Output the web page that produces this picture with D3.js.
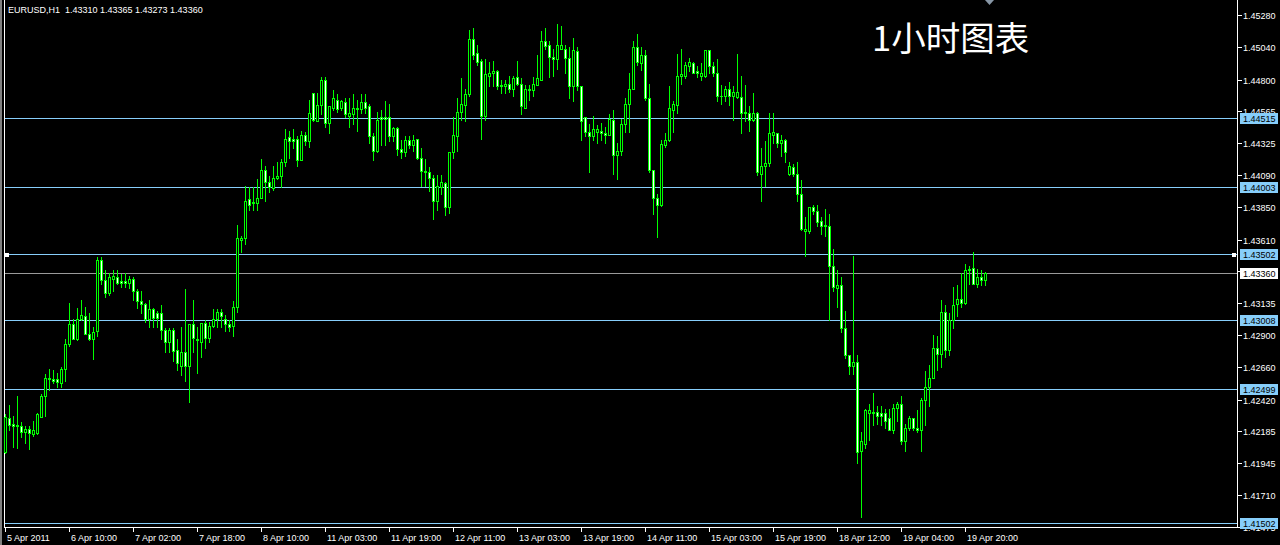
<!DOCTYPE html>
<html><head><meta charset="utf-8">
<script src="https://cdn.jsdelivr.net/npm/d3@7"></script>
<style>html,body{margin:0;padding:0;background:#000;overflow:hidden}</style>
</head><body>
<svg id="c" width="1280" height="545"></svg>
<script>
const headerText = "EURUSD,H1  1.43310 1.43365 1.43273 1.43360";
const title = "1小时图表";

const open = [
1.4203,1.4228,1.4224,1.4223,1.4222,1.4218,1.4220,1.4216,1.4217,1.4229,
1.4245,1.4257,1.4257,1.4257,1.4254,1.4265,1.4283,1.4298,1.4287,1.4302,
1.4304,1.4291,1.4287,1.4293,1.4346,1.4331,1.4321,1.4332,1.4333,1.4330,
1.4330,1.4329,1.4332,1.4323,1.4315,1.4313,1.4302,1.4309,1.4306,1.4306,
1.4294,1.4285,1.4294,1.4279,1.4267,1.4277,1.4267,1.4298,1.4287,1.4285,
1.4299,1.4288,1.4297,1.4302,1.4307,1.4302,1.4298,1.4297,1.4311,1.4361,
1.4362,1.4391,1.4389,1.4388,1.4392,1.4413,1.4404,1.4399,1.4407,1.4408,
1.4419,1.4437,1.4436,1.4436,1.4420,1.4439,1.4434,1.4470,1.4449,1.4461,
1.4480,1.4448,1.4459,1.4465,1.4459,1.4463,1.4453,1.4454,1.4459,1.4458,
1.4463,1.4460,1.4438,1.4427,1.4452,1.4452,1.4452,1.4438,1.4444,1.4428,
1.4426,1.4435,1.4431,1.4436,1.4422,1.4412,1.4411,1.4407,1.4390,1.4400,
1.4403,1.4385,1.4426,1.4438,1.4456,1.4461,1.4469,1.4510,1.4500,1.4494,
1.4453,1.4483,1.4485,1.4486,1.4476,1.4475,1.4477,1.4473,1.4482,1.4477,
1.4459,1.4473,1.4472,1.4476,1.4480,1.4509,1.4506,1.4497,1.4495,1.4503,
1.4503,1.4496,1.4475,1.4501,1.4475,1.4452,1.4441,1.4438,1.4441,1.4442,
1.4440,1.4439,1.4450,1.4424,1.4427,1.4447,1.4462,1.4473,1.4504,1.4492,
1.4498,1.4466,1.4413,1.4392,1.4387,1.4431,1.4435,1.4457,1.4461,1.4483,
1.4483,1.4490,1.4492,1.4486,1.4483,1.4483,1.4502,1.4490,1.4485,1.4468,
1.4468,1.4473,1.4468,1.4467,1.4467,1.4455,1.4455,1.4450,1.4455,1.4410,
1.4416,1.4418,1.4439,1.4440,1.4433,1.4435,1.4410,1.4415,1.4410,1.4395,
1.4367,1.4367,1.4385,1.4382,1.4375,1.4372,1.4371,1.4341,1.4325,1.4327,
1.4295,1.4275,1.4267,1.4270,1.4204,1.4209,1.4232,1.4232,1.4233,1.4232,
1.4232,1.4228,1.4219,1.4236,1.4239,1.4211,1.4221,1.4228,1.4221,1.4219,
1.4242,1.4251,1.4258,1.4280,1.4276,1.4307,1.4279,1.4301,1.4313,1.4317,
1.4314,1.4338,1.4340,1.4328,1.4333,1.43310];

const high = [
1.4231,1.4238,1.4230,1.4245,1.4225,1.4222,1.4222,1.4226,1.4232,1.4246,
1.4261,1.4265,1.4264,1.4262,1.4266,1.4287,1.4314,1.4302,1.4310,1.4316,
1.4311,1.4306,1.4296,1.4348,1.4348,1.4338,1.4336,1.4338,1.4338,1.4335,
1.4336,1.4334,1.4333,1.4324,1.4323,1.4314,1.4316,1.4310,1.4308,1.4312,
1.4295,1.4295,1.4295,1.4287,1.4296,1.4324,1.4296,1.4316,1.4296,1.4299,
1.4301,1.4300,1.4309,1.4309,1.4309,1.4305,1.4301,1.4315,1.4372,1.4364,
1.4401,1.4400,1.4400,1.4406,1.4421,1.4416,1.4408,1.4416,1.4419,1.4421,
1.4443,1.4442,1.4443,1.4438,1.4442,1.4441,1.4465,1.4470,1.4470,1.4482,
1.4482,1.4460,1.4472,1.4469,1.4465,1.4466,1.4466,1.4469,1.4465,1.4469,
1.4469,1.4462,1.4440,1.4456,1.4457,1.4464,1.4462,1.4445,1.4445,1.4435,
1.4438,1.4438,1.4439,1.4436,1.4429,1.4421,1.4415,1.4409,1.4409,1.4409,
1.4404,1.4426,1.4452,1.4466,1.4481,1.4473,1.4517,1.4518,1.4506,1.4495,
1.4495,1.4493,1.4494,1.4487,1.4480,1.4480,1.4483,1.4483,1.4494,1.4481,
1.4476,1.4476,1.4482,1.4498,1.4516,1.4518,1.4509,1.4503,1.4521,1.4520,
1.4506,1.4504,1.4511,1.4504,1.4475,1.4452,1.4447,1.4453,1.4446,1.4448,
1.4445,1.4454,1.4457,1.4433,1.4451,1.4466,1.4485,1.4509,1.4514,1.4504,
1.4502,1.4477,1.4413,1.4395,1.4435,1.4440,1.4475,1.4464,1.4499,1.4503,
1.4493,1.4496,1.4493,1.4490,1.4492,1.4502,1.4502,1.4493,1.4495,1.4476,
1.4475,1.4478,1.4475,1.4499,1.4483,1.4476,1.4460,1.4470,1.4456,1.4429,
1.4434,1.4455,1.4455,1.4440,1.4439,1.4436,1.4419,1.4417,1.4419,1.4405,
1.4378,1.4385,1.4387,1.4387,1.4378,1.4384,1.4380,1.4354,1.4338,1.4333,
1.4308,1.4275,1.4349,1.4275,1.4218,1.4235,1.4239,1.4247,1.4237,1.4237,
1.4235,1.4235,1.4239,1.4240,1.4245,1.4224,1.4230,1.4228,1.4234,1.4243,
1.4263,1.4268,1.4290,1.4289,1.4316,1.4312,1.4306,1.4326,1.4327,1.4336,
1.4343,1.4341,1.4352,1.4339,1.4338,1.43365];

const low = [
1.4202,1.4219,1.4207,1.4206,1.4214,1.4210,1.4205,1.4215,1.4216,1.4229,
1.4230,1.4249,1.4254,1.4251,1.4251,1.4256,1.4282,1.4287,1.4286,1.4301,
1.4291,1.4286,1.4272,1.4289,1.4328,1.4318,1.4320,1.4323,1.4328,1.4326,
1.4326,1.4325,1.4316,1.4310,1.4306,1.4300,1.4296,1.4296,1.4296,1.4287,
1.4277,1.4277,1.4271,1.4264,1.4260,1.4256,1.4240,1.4277,1.4262,1.4274,
1.4280,1.4285,1.4296,1.4296,1.4296,1.4293,1.4293,1.4289,1.4307,1.4352,
1.4358,1.4383,1.4383,1.4383,1.4392,1.4390,1.4396,1.4398,1.4406,1.4400,
1.4416,1.4422,1.4429,1.4416,1.4420,1.4431,1.4430,1.4449,1.4449,1.4454,
1.4445,1.4440,1.4457,1.4456,1.4457,1.4452,1.4445,1.4447,1.4442,1.4455,
1.4455,1.4433,1.4420,1.4426,1.4431,1.4431,1.4434,1.4434,1.4424,1.4422,
1.4423,1.4429,1.4427,1.4421,1.4401,1.4401,1.4397,1.4376,1.4383,1.4395,
1.4379,1.4381,1.4422,1.4427,1.4450,1.4449,1.4468,1.4495,1.4491,1.4436,
1.4450,1.4475,1.4475,1.4473,1.4470,1.4470,1.4471,1.4468,1.4476,1.4454,
1.4459,1.4465,1.4468,1.4476,1.4480,1.4503,1.4482,1.4483,1.4488,1.4503,
1.4485,1.4466,1.4464,1.4472,1.4435,1.4438,1.4411,1.4435,1.4433,1.4435,
1.4433,1.4439,1.4410,1.4406,1.4424,1.4441,1.4441,1.4473,1.4491,1.4487,
1.4465,1.4411,1.4380,1.4363,1.4386,1.4430,1.4434,1.4441,1.4455,1.4477,
1.4481,1.4486,1.4485,1.4482,1.4480,1.4482,1.4485,1.4483,1.4464,1.4462,
1.4464,1.4461,1.4450,1.4466,1.4440,1.4449,1.4442,1.4449,1.4409,1.4390,
1.4401,1.4416,1.4433,1.4430,1.4423,1.4419,1.4409,1.4408,1.4390,1.4368,
1.4349,1.4366,1.4380,1.4371,1.4365,1.4364,1.4301,1.4323,1.4311,1.4292,
1.4273,1.4261,1.4261,1.4195,1.4155,1.4206,1.4212,1.4223,1.4224,1.4223,
1.4221,1.4219,1.4217,1.4226,1.4209,1.4204,1.4219,1.4219,1.4218,1.4204,
1.4223,1.4237,1.4258,1.4264,1.4266,1.4274,1.4275,1.4295,1.4304,1.4311,
1.4313,1.4328,1.4328,1.4326,1.4327,1.43273];

const close = [
1.4229,1.4223,1.4222,1.4222,1.4218,1.4220,1.4217,1.4219,1.4231,1.4245,
1.4258,1.4258,1.4256,1.4255,1.4265,1.4283,1.4298,1.4287,1.4302,1.4305,
1.4291,1.4287,1.4292,1.4346,1.4331,1.4321,1.4333,1.4334,1.4329,1.4329,
1.4329,1.4332,1.4323,1.4315,1.4313,1.4302,1.4309,1.4303,1.4303,1.4294,
1.4285,1.4294,1.4278,1.4269,1.4277,1.4267,1.4298,1.4288,1.4286,1.4299,
1.4288,1.4297,1.4302,1.4307,1.4304,1.4298,1.4296,1.4311,1.4362,1.4362,
1.4390,1.4387,1.4388,1.4392,1.4413,1.4404,1.4400,1.4407,1.4408,1.4419,
1.4436,1.4434,1.4434,1.4420,1.4439,1.4434,1.4455,1.4450,1.4461,1.4480,
1.4448,1.4460,1.4466,1.4458,1.4464,1.4454,1.4455,1.4459,1.4458,1.4463,
1.4459,1.4438,1.4427,1.4450,1.4451,1.4451,1.4438,1.4444,1.4428,1.4426,
1.4435,1.4431,1.4435,1.4422,1.4412,1.4411,1.4407,1.4390,1.4401,1.4404,
1.4385,1.4426,1.4439,1.4456,1.4462,1.4469,1.4510,1.4498,1.4493,1.4453,
1.4484,1.4485,1.4486,1.4475,1.4475,1.4477,1.4473,1.4481,1.4477,1.4460,
1.4473,1.4472,1.4477,1.4481,1.4509,1.4505,1.4497,1.4495,1.4506,1.4506,
1.4496,1.4475,1.4502,1.4475,1.4449,1.4441,1.4438,1.4443,1.4443,1.4440,
1.4439,1.4451,1.4424,1.4427,1.4447,1.4462,1.4473,1.4504,1.4493,1.4498,
1.4466,1.4413,1.4392,1.4387,1.4432,1.4435,1.4459,1.4462,1.4483,1.4484,
1.4491,1.4493,1.4485,1.4485,1.4485,1.4502,1.4490,1.4485,1.4468,1.4468,
1.4473,1.4468,1.4471,1.4471,1.4455,1.4456,1.4450,1.4455,1.4411,1.4416,
1.4418,1.4440,1.4441,1.4433,1.4435,1.4426,1.4416,1.4410,1.4395,1.4369,
1.4369,1.4385,1.4382,1.4374,1.4371,1.4371,1.4341,1.4326,1.4327,1.4295,
1.4275,1.4267,1.4270,1.4203,1.4211,1.4234,1.4234,1.4233,1.4230,1.4230,
1.4226,1.4219,1.4236,1.4239,1.4211,1.4221,1.4228,1.4221,1.4219,1.4242,
1.4251,1.4258,1.4280,1.4276,1.4307,1.4279,1.4301,1.4312,1.4317,1.4314,
1.4338,1.4339,1.4328,1.4333,1.4331,1.43360];

const timeLabels = ["5 Apr 2011","6 Apr 10:00","7 Apr 02:00","7 Apr 18:00","8 Apr 10:00",
"11 Apr 03:00","11 Apr 19:00","12 Apr 11:00","13 Apr 03:00","13 Apr 19:00","14 Apr 11:00",
"15 Apr 03:00","15 Apr 19:00","18 Apr 12:00","19 Apr 04:00","19 Apr 20:00"];
const barsPerLabel = 16;

const priceTicks = [1.45280,1.45040,1.44800,1.44565,1.44325,1.44090,1.43850,1.43610,1.43375,
1.43135,1.42900,1.42660,1.42420,1.42185,1.41945,1.41710,1.41475];
const levels = [1.44515,1.44003,1.43502,1.43008,1.42499,1.41502];
const bid = 1.43360;

// ---- drawing ----
const svg = d3.select("#c");
const W = 1280, H = 545;
const plotL = 4, plotR = 1237, plotB = 527;
const green = "#00ff00", levelColor = "#87cefa";
const fontAx = "'Liberation Sans', Arial, sans-serif";

svg.append("rect").attr("width", W).attr("height", H).attr("fill", "#000");
svg.attr("shape-rendering", "crispEdges");

const n = open.length;
const x = d3.scaleLinear().domain([0, n - 1]).range([5, 5 + 4 * (n - 1)]);
const y = d3.scaleLinear().domain([1.41710, 1.45280]).range([495, 15]);
const py = v => Math.round(y(v));

// window edge + frame
svg.append("rect").attr("x", 0).attr("y", 0).attr("width", 2).attr("height", H).attr("fill", "#808080");
svg.append("line").attr("x1", plotL + 0.5).attr("x2", plotL + 0.5).attr("y1", 0).attr("y2", plotB)
  .attr("stroke", "#fff");
svg.append("line").attr("x1", plotR + 0.5).attr("x2", plotR + 0.5).attr("y1", 0).attr("y2", plotB + 0.5)
  .attr("stroke", "#fff");
svg.append("line").attr("x1", plotL).attr("x2", plotR + 1).attr("y1", plotB + 0.5).attr("y2", plotB + 0.5)
  .attr("stroke", "#fff");

// level lines
const gLv = svg.append("g");
levels.forEach(v => {
  gLv.append("line").attr("x1", plotL + 1).attr("x2", plotR).attr("y1", py(v) + 0.5).attr("y2", py(v) + 0.5)
    .attr("stroke", levelColor);
});
gLv.append("line").attr("x1", plotL + 1).attr("x2", plotR).attr("y1", py(bid) + 0.5).attr("y2", py(bid) + 0.5)
  .attr("stroke", "#9a9a9a");
// selection handles on the 1.43502 line
gLv.append("rect").attr("x", 5).attr("y", py(levels[2]) - 1.5).attr("width", 4).attr("height", 4).attr("fill", "#fff");
gLv.append("rect").attr("x", plotR - 5).attr("y", py(levels[2]) - 1.5).attr("width", 4).attr("height", 4).attr("fill", "#fff");

// candles
const idx = d3.range(n);
const gC = svg.append("g");
const cs = gC.selectAll("g").data(idx).join("g");
cs.append("rect")
  .attr("x", i => Math.round(x(i)))
  .attr("y", i => py(high[i]))
  .attr("width", 1)
  .attr("height", i => py(low[i]) - py(high[i]) + 1)
  .attr("fill", green);
cs.append("rect")
  .attr("x", i => Math.round(x(i)) - 1)
  .attr("y", i => Math.min(py(open[i]), py(close[i])))
  .attr("width", 3)
  .attr("height", i => Math.abs(py(open[i]) - py(close[i])) + 1)
  .attr("fill", green);
cs.filter(i => Math.abs(py(open[i]) - py(close[i])) >= 2).append("rect")
  .attr("x", i => Math.round(x(i)))
  .attr("y", i => Math.min(py(open[i]), py(close[i])) + 1)
  .attr("width", 1)
  .attr("height", i => Math.abs(py(open[i]) - py(close[i])) - 1)
  .attr("fill", i => close[i] >= open[i] ? "#000" : "#fff");

// price axis
const gP = svg.append("g").attr("font-family", fontAx).attr("font-size", "9px");
priceTicks.forEach(v => {
  const yy = py(v);
  gP.append("line").attr("x1", plotR + 1).attr("x2", plotR + 5).attr("y1", yy + 0.5).attr("y2", yy + 0.5).attr("stroke", "#fff");
  gP.append("text").attr("x", 1243).attr("y", yy + 4).attr("fill", "#fff").text(v.toFixed(5));
});
levels.forEach(v => {
  const yy = py(v);
  gP.append("rect").attr("x", 1240).attr("y", yy - 5).attr("width", 38).attr("height", 11).attr("fill", levelColor);
  gP.append("text").attr("x", 1243).attr("y", yy + 4).attr("fill", "#000").text(v.toFixed(5));
});
{
  const yy = py(bid);
  gP.append("rect").attr("x", 1240).attr("y", yy - 5).attr("width", 38).attr("height", 11).attr("fill", "#fff");
  gP.append("text").attr("x", 1243).attr("y", yy + 4).attr("fill", "#000").text(bid.toFixed(5));
}

// time axis
const gT = svg.append("g").attr("font-family", fontAx).attr("font-size", "9px");
timeLabels.forEach((t, k) => {
  const xx = Math.round(x(k * barsPerLabel));
  gT.append("line").attr("x1", xx + 0.5).attr("x2", xx + 0.5).attr("y1", plotB).attr("y2", plotB + 5).attr("stroke", "#fff");
  gT.append("text").attr("x", xx + 2).attr("y", 541).attr("fill", "#fff").text(t);
});

// chart shift marker
svg.append("path").attr("d", "M985,0 L994,0 L989.5,5 Z").attr("fill", "#8796a5").attr("shape-rendering", "auto");

// header & title
svg.append("text").attr("x", 8).attr("y", 13).attr("fill", "#fff")
  .attr("font-family", fontAx).attr("font-size", "9px").attr("xml:space", "preserve")
  .style("white-space", "pre").text(headerText);
svg.append("text").attr("x", 872).attr("y", 51).attr("fill", "#fff")
  .attr("font-family", "'Noto Sans CJK SC', sans-serif").attr("font-size", "34.5px")
  .attr("shape-rendering", "auto").text(title);
</script>
</body></html>
